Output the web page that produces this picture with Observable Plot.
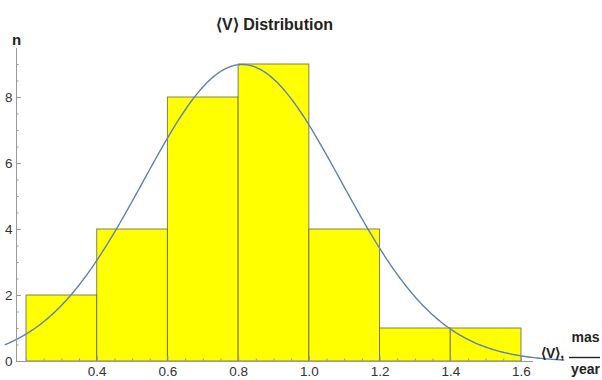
<!DOCTYPE html>
<html>
<head>
<meta charset="utf-8">
<script src="https://cdn.jsdelivr.net/npm/d3@7"></script>
<script src="https://cdn.jsdelivr.net/npm/@observablehq/plot@0.6"></script>
<style>
  body { margin: 0; background: #fff; }
  svg { display: block; }
</style>
</head>
<body>
<div id="chart"></div>
<script>
// Histogram of ⟨V⟩ (mas/year), bin width 0.2
const binStarts = [0.2, 0.4, 0.6, 0.8, 1.0, 1.2, 1.4];
const binWidth = 0.2;
const counts = [2, 4, 8, 9, 4, 1, 1];

// Tick values
const xTickLabels = [0.4, 0.6, 0.8, 1.0, 1.2, 1.4, 1.6];
const yTickLabels = [0, 2, 4, 6, 8];

// Fitted normal curve parameters
const fitPeak = 9;
const fitMean = 0.81;
const fitSigma = 0.28;

// Plot range
const xMin = 0.1717, xMax = 1.634;
const yMin = 0, yMax = 9.485;

const bins = binStarts.map((x0, i) => ({ x1: x0, x2: x0 + binWidth, n: counts[i] }));
const gauss = v => fitPeak * Math.exp(-((v - fitMean) ** 2) / (2 * fitSigma ** 2));
const curve = d3.range(0.14, 1.7201, 0.005).map(v => ({ v, n: gauss(v) }));

const near = (a, list) => list.some(b => Math.abs(a - b) < 1e-6);
const xMinor = d3.range(0.2, 1.6001, 0.05).map(v => +v.toFixed(2)).filter(v => !near(v, xTickLabels));
const yMinor = d3.range(0.5, 9.001, 0.5).filter(v => !near(v, yTickLabels));

const axisColor = "#9a9a9a";
const textColor = "#333";

const chart = Plot.plot({
  width: 602,
  height: 380,
  marginLeft: 16,
  marginRight: 69,
  marginTop: 48,
  marginBottom: 19,
  x: { domain: [xMin, xMax] },
  y: { domain: [yMin, yMax] },
  style: {
    fontFamily: "'Liberation Sans', Arial, sans-serif",
    fontSize: "13.5px",
    color: textColor,
    background: "#fff"
  },
  marks: [
    Plot.rectY(bins, { x1: "x1", x2: "x2", y: "n", fill: "#ffff00", stroke: "#555", strokeOpacity: 0.75, strokeWidth: 1 }),
    Plot.line(curve, { x: "v", y: "n", stroke: "#5e81b5", strokeWidth: 1.4 }),
    Plot.ruleY([yMin], { stroke: axisColor }),
    Plot.ruleX([xMin], { stroke: axisColor }),
    Plot.axisX(xTickLabels, { tickSize: -5, tickPadding: 10, tickFormat: ".1f", stroke: axisColor, fill: textColor, fontSize: 13.5, label: null }),
    Plot.axisX(xMinor, { tickSize: -2.5, tickFormat: () => "", stroke: axisColor, label: null }),
    Plot.axisY(yTickLabels, { tickSize: -5, tickPadding: 9, stroke: axisColor, fill: textColor, fontSize: 13.5, label: null }),
    Plot.axisY(yMinor, { tickSize: -2.5, tickFormat: () => "", stroke: axisColor, label: null }),
    Plot.text(["⟨V⟩ Distribution"], {
      text: d => d, frameAnchor: "top-left", dx: 258, dy: -30,
      fontWeight: "bold", fontSize: 16, fill: "#222", textAnchor: "middle"
    }),
    Plot.text(["n"], {
      text: d => d, frameAnchor: "top-left", dx: 0, dy: -14,
      fontWeight: "bold", fontSize: 15, fill: "#222", textAnchor: "middle"
    }),
    Plot.text(["⟨V⟩,"], {
      text: d => d, frameAnchor: "bottom-right", dx: 19, dy: -4,
      fontWeight: "bold", fontSize: 14, fill: "#222", textAnchor: "middle"
    }),
    Plot.text(["mas"], {
      text: d => d, frameAnchor: "bottom-right", dx: 52, dy: -20,
      fontWeight: "bold", fontSize: 14, fill: "#222", textAnchor: "middle"
    }),
    Plot.text(["year"], {
      text: d => d, frameAnchor: "bottom-right", dx: 52, dy: 12,
      fontWeight: "bold", fontSize: 14, fill: "#222", textAnchor: "middle"
    })
  ]
});

// fraction bar for the unit label
d3.select(chart).append("line")
  .attr("x1", 569).attr("x2", 600)
  .attr("y1", 357.5).attr("y2", 357.5)
  .attr("stroke", "#222").attr("stroke-width", 1.4);

document.getElementById("chart").appendChild(chart);
</script>
</body>
</html>
